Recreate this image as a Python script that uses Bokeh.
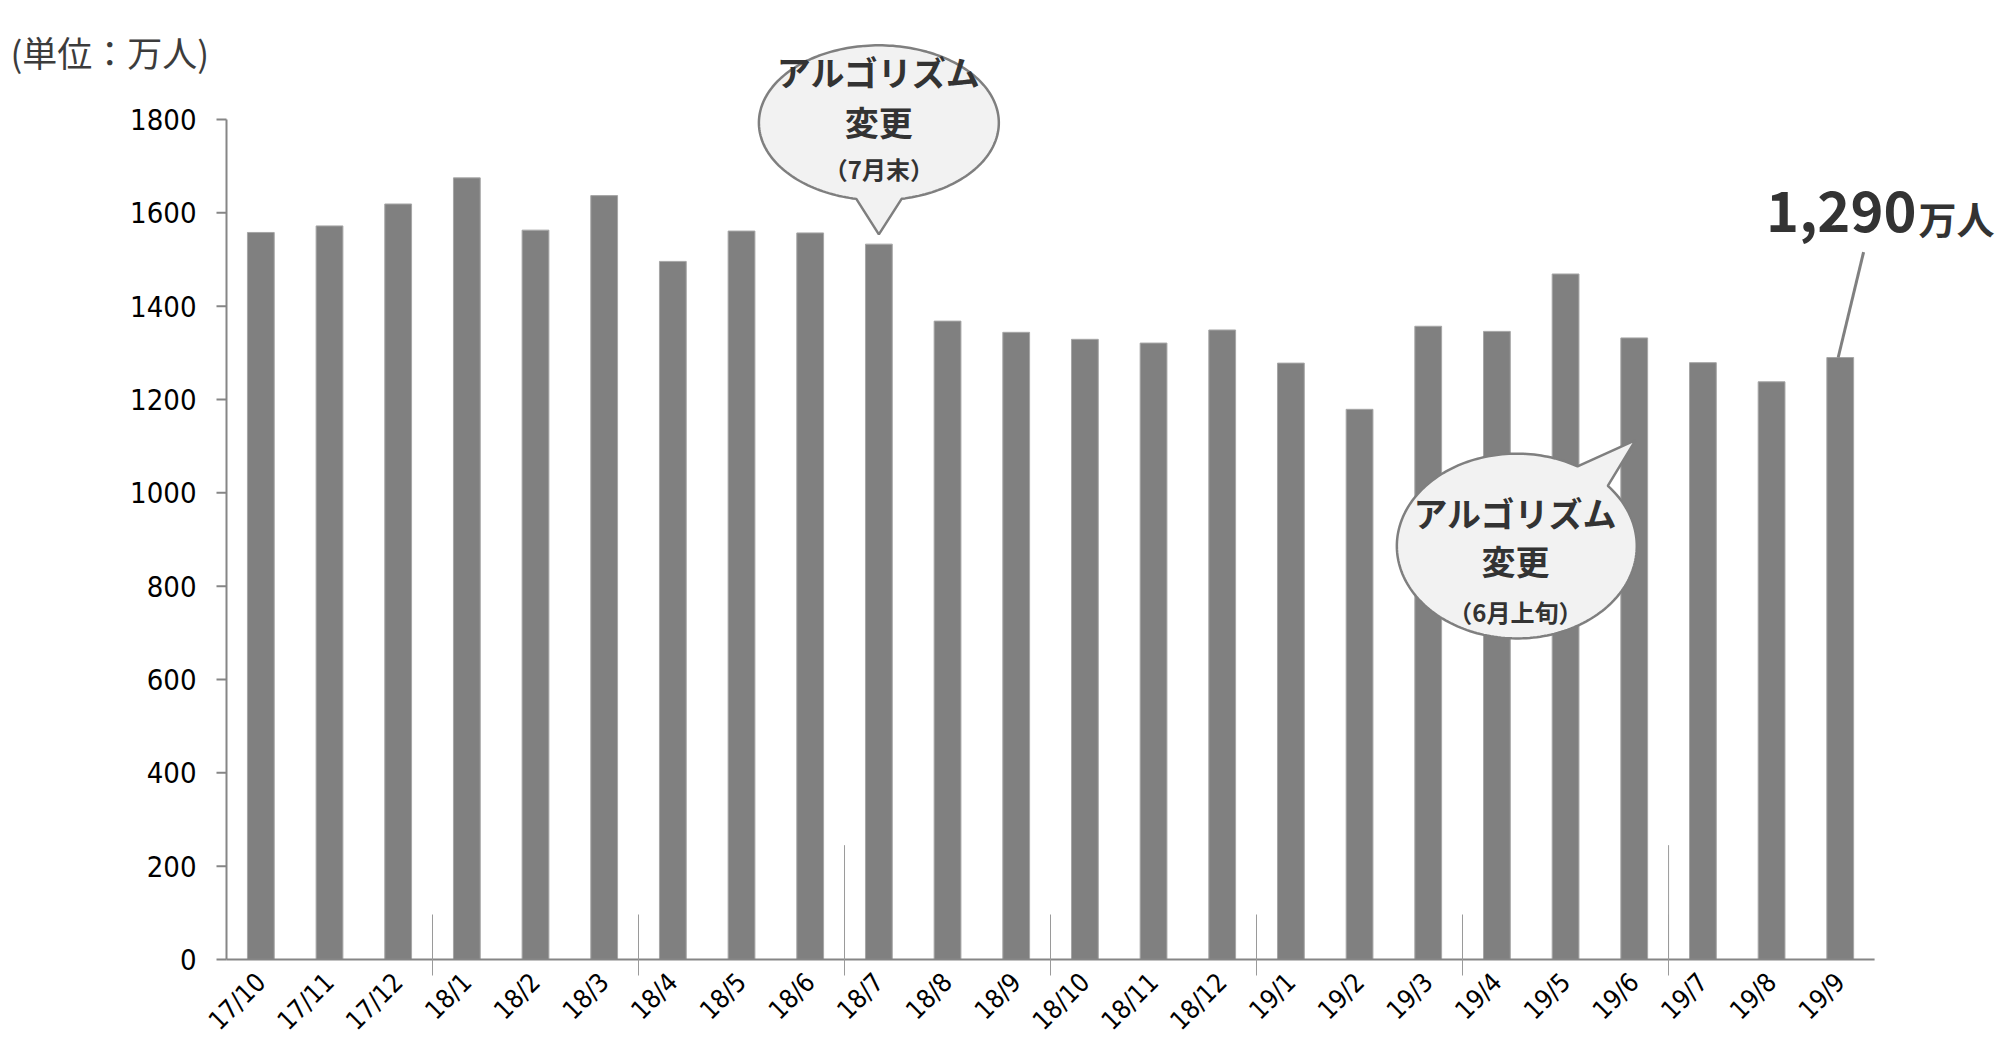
import math

from bokeh.core.properties import value
from bokeh.embed import file_html
from bokeh.models import FixedTicker, Range1d
from bokeh.plotting import figure
from bokeh.resources import INLINE

# Monthly users (unit: 10,000 people)
months = ["17/10", "17/11", "17/12", "18/1", "18/2", "18/3", "18/4", "18/5",
          "18/6", "18/7", "18/8", "18/9", "18/10", "18/11", "18/12", "19/1",
          "19/2", "19/3", "19/4", "19/5", "19/6", "19/7", "19/8", "19/9"]
users = [1558, 1572, 1619, 1675, 1563, 1637, 1496, 1561, 1557, 1533, 1368, 1344,
         1329, 1321, 1349, 1278, 1179, 1357, 1346, 1469, 1332, 1279, 1238, 1290]
y_ticks = [0, 200, 400, 600, 800, 1000, 1200, 1400, 1600, 1800]
quarter_marks = [3, 6, 9, 12, 15, 18, 21]
change_marks = [9, 21]          # months where the algorithm changed
unit_note = "(単位：万人)"
latest_unit = "万人"

# ---- canvas geometry -------------------------------------------------------
W, H = 2004, 1050
ORIGIN_X = 226                   # pixel column of the value axis
ZERO_Y = 959                     # pixel row of the baseline
RIGHT, TOP, BOTTOM = 4, 0, 79
CAT_PX = 68.67                   # pixels per month
Y_PX = 93.33 / 200.0             # pixels per unit


def dx(px):
    """Horizontal pixel distance expressed in month units."""
    return px / CAT_PX


def dy(px):
    """Vertical pixel distance expressed in value units."""
    return px / Y_PX


x_start, x_end = -dx(ORIGIN_X), dx(W - RIGHT - ORIGIN_X)
below_zero = H - BOTTOM - ZERO_Y          # frame space kept under the baseline
y_start, y_end = -dy(below_zero), dy(ZERO_Y - TOP)

TXT = "#333333"
AXIS = "#868686"
TICK = "#9a9a9a"
JP = "Noto Sans CJK JP"
NUM = "DejaVu Sans Condensed"

p = figure(width=W, height=H, x_range=Range1d(x_start, x_end), y_range=Range1d(y_start, y_end),
           output_backend="svg", toolbar_location=None, y_axis_location=None,
           min_border_left=0, min_border_right=RIGHT,
           min_border_top=TOP, min_border_bottom=BOTTOM)
p.xgrid.visible = False
p.ygrid.visible = False
p.outline_line_color = None
p.background_fill_color = "white"
p.border_fill_color = "white"

# ---- bars --------------------------------------------------------------------
centers = [i + 0.5 for i in range(len(months))]
p.vbar(x=centers, top=users, bottom=0, width=0.39,
       fill_color="#808080", line_color="#a6a6a6", line_width=1)

# ---- month axis: labels and quarter ticks from the axis, baseline drawn at 0 --------
xa = p.xaxis[0]
xa.ticker = FixedTicker(ticks=centers, minor_ticks=quarter_marks)
xa.major_label_overrides = {c: m for c, m in zip(centers, months)}
xa.bounds = (0, len(months))
xa.axis_line_color = None
xa.major_tick_in = 0
xa.major_tick_out = 0
xa.major_tick_line_color = None
xa.minor_tick_in = below_zero + 45
xa.minor_tick_out = 4
xa.minor_tick_line_color = TICK
xa.minor_tick_line_width = 1
xa.major_label_orientation = math.pi / 4
xa.major_label_standoff = 2
xa.major_label_text_font = NUM
xa.major_label_text_font_size = "26px"
xa.major_label_text_color = "#000000"

p.segment(x0=[0], y0=[0], x1=[len(months)], y1=[0], line_color=AXIS, line_width=2)

# taller markers where the algorithm changed
p.segment(x0=change_marks, y0=[0] * len(change_marks),
          x1=change_marks, y1=[245] * len(change_marks),
          line_color=TICK, line_width=1)

# ---- value axis (line, outward ticks, labels) -------------------------------------
n = len(y_ticks)
p.segment(x0=[0], y0=[0], x1=[0], y1=[y_ticks[-1]], line_color=AXIS, line_width=2)
p.segment(x0=[-dx(10)] * n, y0=y_ticks, x1=[0] * n, y1=y_ticks,
          line_color=AXIS, line_width=2)
p.text(x=[-dx(30)] * n, y=y_ticks, text=[str(t) for t in y_ticks],
       text_font=value(NUM), text_font_size="29px", text_color="#000000",
       text_align="right", text_baseline="middle")

# unit note in the top-left corner
p.text(x=[-dx(216)], y=[dy(ZERO_Y - 51)], text=[unit_note], text_font=value(JP),
       text_font_size="35px", text_color="#3c3c3c",
       text_align="left", text_baseline="middle")


# ---- speech bubbles -------------------------------------------------------------
def bubble(cx, cy, rx, ry, t_a, t_b, tip, n_pts=200):
    """Ellipse outline that opens between angles t_a..t_b into a pointed tail."""
    end = t_a + 2 * math.pi
    ts = [t_b + (end - t_b) * k / n_pts for k in range(n_pts + 1)]
    xs = [cx + rx * math.cos(t) for t in ts] + [tip[0]]
    ys = [cy + ry * math.sin(t) for t in ts] + [tip[1]]
    return xs, ys


def bubble_text(x, lines):
    for y, txt, size in lines:
        p.text(x=[x], y=[y], text=[txt], text_font=value(JP), text_font_style="bold",
               text_font_size=size, text_color=TXT,
               text_align="center", text_baseline="middle")


# change at the end of July 2018 (points at 18/7)
bx, by = bubble(9.5, 1793, 1.747, 166, -1.76, -1.38, (9.5, users[9] + 21))
p.patch(bx, by, fill_color="#f2f2f2", line_color="#7f7f7f", line_width=2.5)
bubble_text(9.5, [(1903, "アルゴリズム", "34px"),
                  (1796, "変更", "34px"),
                  (1695, "（7月末）", "24px")])

# change in early June 2019
bx, by = bubble(18.79, 886, 1.747, 198, 0.71, 1.04, (20.52, 1113))
p.patch(bx, by, fill_color="#f2f2f2", line_color="#7f7f7f", line_width=2.5)
bubble_text(18.77, [(958, "アルゴリズム", "34px"),
                    (855, "変更", "34px"),
                    (746, "（6月上旬）", "24px")])

# ---- latest value callout ---------------------------------------------------------
last = len(users) - 1
p.segment(x0=[23.84], y0=[1516], x1=[last + 0.47], y1=[users[last]],
          line_color="#808080", line_width=3)
p.text(x=[24.61], y=[1603], text=[f"{users[last]:,}"], text_font=value(JP),
       text_font_style="bold", text_font_size="56px", text_color=TXT,
       text_align="right", text_baseline="middle")
p.text(x=[24.64], y=[1589], text=[latest_unit], text_font=value(JP),
       text_font_style="bold", text_font_size="38px", text_color=TXT,
       text_align="left", text_baseline="middle")

open("out.html", "w").write(file_html(p, INLINE))
